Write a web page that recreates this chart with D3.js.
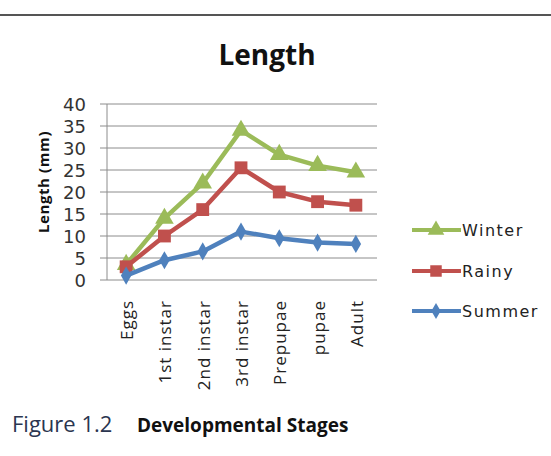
<!DOCTYPE html>
<html>
<head>
<meta charset="utf-8">
<script src="https://cdn.jsdelivr.net/npm/d3@7"></script>
<style>
  body { margin: 0; background: #fff; }
  svg { display: block; }
</style>
</head>
<body>
<svg id="chart" width="551" height="456"></svg>
<script>
var stages = ["Eggs", "1st instar", "2nd instar", "3rd instar", "Prepupae", "pupae", "Adult"];
var winter = [3.5, 14, 22, 34, 28.5, 26, 24.5];
var rainy = [3, 10, 16, 25.5, 20, 17.8, 17];
var summer = [1, 4.5, 6.5, 11, 9.5, 8.5, 8.2];
var yTicks = [0, 5, 10, 15, 20, 25, 30, 35, 40];

var series = [
    {name: "Winter", values: winter, color: "#9bbb59", symbol: d3.symbolTriangle, size: 150},
    {name: "Rainy", values: rainy, color: "#c0504d", symbol: d3.symbolSquare, size: 165},
    {name: "Summer", values: summer, color: "#4f81bd", symbol: d3.symbolDiamond, size: 95}
];

var svg = d3.select("#chart");
var plotLeft = 107, plotRight = 375, plotTop = 104, plotBottom = 280;

var x = d3.scaleBand()
    .domain(stages)
    .range([plotLeft, plotRight]);

var y = d3.scaleLinear()
    .domain([0, 40])
    .range([plotBottom, plotTop]);

// rule along the top of the page
svg.append("line")
    .attr("x1", 0).attr("x2", 551)
    .attr("y1", 15).attr("y2", 15)
    .attr("stroke", "#555")
    .attr("stroke-width", 2);

// title
svg.append("text")
    .attr("x", 267).attr("y", 65)
    .attr("text-anchor", "middle")
    .style("font-family", "'Open Sans', sans-serif")
    .style("font-weight", "bold")
    .style("font-size", "28px")
    .attr("fill", "#111")
    .text("Length");

// gridlines
svg.append("g")
    .selectAll("line")
    .data(yTicks)
    .join("line")
    .attr("x1", plotLeft - 7).attr("x2", plotRight + 2)
    .attr("y1", function(d) { return y(d); })
    .attr("y2", function(d) { return y(d); })
    .attr("stroke", "#8c8c8c")
    .attr("stroke-width", 1);

// y axis line
svg.append("line")
    .attr("x1", plotLeft).attr("x2", plotLeft)
    .attr("y1", plotTop).attr("y2", plotBottom)
    .attr("stroke", "#8c8c8c");

// y tick labels
svg.append("g")
    .selectAll("text")
    .data(yTicks)
    .join("text")
    .attr("x", 86)
    .attr("y", function(d) { return y(d) + 6.5; })
    .attr("text-anchor", "end")
    .style("font-family", "'DejaVu Sans', sans-serif")
    .style("font-size", "18px")
    .attr("fill", "#333")
    .text(function(d) { return d; });

// y axis title
svg.append("text")
    .attr("transform", "translate(49," + 182 + ") rotate(-90)")
    .attr("text-anchor", "middle")
    .style("font-family", "'Open Sans', sans-serif")
    .style("font-weight", "bold")
    .style("font-size", "15px")
    .style("letter-spacing", "0.6px")
    .attr("fill", "#111")
    .text("Length  (mm)");

// x labels
svg.append("g")
    .selectAll("text")
    .data(stages)
    .join("text")
    .attr("transform", function(d) {
        return "translate(" + (x(d) + x.bandwidth() / 2 + 7) + ",300) rotate(-90)";
    })
    .attr("text-anchor", "end")
    .style("font-family", "'Open Sans', sans-serif")
    .style("font-size", "17px")
    .style("letter-spacing", "1px")
    .attr("fill", "#222")
    .text(function(d) { return d; });

// lines and markers
var line = d3.line()
    .x(function(d, i) { return x(stages[i]) + x.bandwidth() / 2; })
    .y(function(d) { return y(d); });

series.forEach(function(s) {
    svg.append("path")
        .datum(s.values)
        .attr("d", line)
        .attr("fill", "none")
        .attr("stroke", s.color)
        .attr("stroke-width", 4.5)
        .attr("stroke-linejoin", "round");

    svg.append("g")
        .selectAll("path")
        .data(s.values)
        .join("path")
        .attr("transform", function(d, i) {
            return "translate(" + (x(stages[i]) + x.bandwidth() / 2) + "," + y(d) + ")";
        })
        .attr("d", d3.symbol().type(s.symbol).size(s.size))
        .attr("fill", s.color);
});

// legend
var legendY = [230, 271, 311];
series.forEach(function(s, i) {
    var g = svg.append("g").attr("transform", "translate(412," + legendY[i] + ")");
    g.append("line")
        .attr("x1", 0).attr("x2", 49)
        .attr("stroke", s.color)
        .attr("stroke-width", 4);
    g.append("path")
        .attr("transform", "translate(24,0)")
        .attr("d", d3.symbol().type(s.symbol).size(s.size * 0.8))
        .attr("fill", s.color);
    g.append("text")
        .attr("x", 50).attr("y", 6)
        .style("font-family", "'DejaVu Sans', sans-serif")
        .style("font-size", "16px")
        .style("letter-spacing", "1.5px")
        .attr("fill", "#222")
        .text(s.name);
});

// caption
svg.append("text")
    .attr("x", 12).attr("y", 432)
    .style("font-family", "'Open Sans', sans-serif")
    .style("font-size", "22px")
    .attr("fill", "#2b3550")
    .text("Figure 1.2");

svg.append("text")
    .attr("x", 137).attr("y", 432)
    .style("font-family", "'Open Sans', sans-serif")
    .style("font-weight", "bold")
    .style("font-size", "19px")
    .attr("fill", "#111")
    .text("Developmental Stages");
</script>
</body>
</html>
